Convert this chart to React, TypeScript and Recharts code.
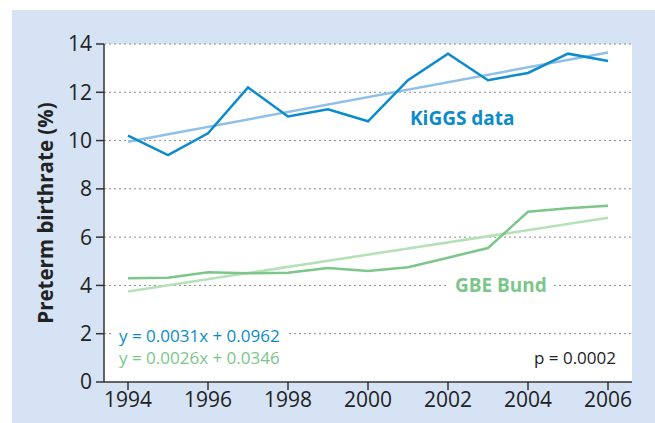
import { LineChart, Line, XAxis, YAxis, CartesianGrid, Customized } from 'recharts'

const years = [1994, 1995, 1996, 1997, 1998, 1999, 2000, 2001, 2002, 2003, 2004, 2005, 2006]
const kiggs = [10.2, 9.4, 10.3, 12.2, 11.0, 11.3, 10.8, 12.5, 13.6, 12.5, 12.8, 13.6, 13.3]
const gbe = [4.3, 4.32, 4.55, 4.5, 4.53, 4.72, 4.6, 4.75, 5.15, 5.55, 7.05, 7.2, 7.3]
// fitted lines, read at 1994 and 2006
const kiggsTrend = [9.95, 13.65]
const gbeTrend = [3.75, 6.8]
const yTicks = [0, 2, 4, 6, 8, 10, 12, 14]
const xTicks = [1994, 1996, 1998, 2000, 2002, 2004, 2006]

const FONT = "'Open Sans', sans-serif"
const BLUE = '#0b8bcb'
const BLUE_LIGHT = '#8fc0e8'
const GREEN = '#7cc68a'
const GREEN_LIGHT = '#b6e0b8'

const last = years.length - 1
const data = years.map((year, i) => ({
  year,
  kiggs: kiggs[i],
  gbe: gbe[i],
  kiggsTrend: i === 0 ? kiggsTrend[0] : i === last ? kiggsTrend[1] : null,
  gbeTrend: i === 0 ? gbeTrend[0] : i === last ? gbeTrend[1] : null,
}))

function Annotations() {
  return (
    <g fontFamily={FONT}>
      <text x={410} y={125} fill={BLUE} fontSize={19} fontWeight={700}>
        KiGGS data
      </text>
      <rect x={449} y={272} width={104} height={24} fill="#fff" />
      <text x={455} y={292} fill={GREEN} fontSize={19} fontWeight={700}>
        GBE Bund
      </text>
      <rect x={114} y={324} width={174} height={18} fill="#fff" />
      <text x={119} y={342} fill={BLUE} fontSize={17}>
        y = 0.0031x + 0.0962
      </text>
      <text x={119} y={364} fill={GREEN} fontSize={17}>
        y = 0.0026x + 0.0346
      </text>
      <text x={616} y={364} fill="#222" fontSize={17} textAnchor="end">
        p = 0.0002
      </text>
    </g>
  )
}

export default function App() {
  return (
    <div style={{ position: 'absolute', left: 0, top: 0, width: 655, height: 423, background: '#fff' }}>
      <div
        style={{
          position: 'absolute',
          left: 12,
          top: 10,
          width: 643,
          height: 413,
          background: '#d5e3f5',
        }}
      />
      <div style={{ position: 'absolute', left: 0, top: 0 }}>
        <LineChart
          width={655}
          height={423}
          data={data}
          margin={{ top: 44, right: 23, left: 44, bottom: 11 }}
        >
          <CartesianGrid
            vertical={false}
            fill="#fff"
            stroke="#8a8a8a"
            strokeDasharray="2 3"
            horizontalValues={yTicks.filter((t) => t > 0)}
          />
          <XAxis
            dataKey="year"
            type="number"
            domain={[1993.4, 2006.6]}
            ticks={xTicks}
            interval={0}
            height={30}
            tickSize={8}
            tickMargin={2}
            axisLine={{ stroke: '#333', strokeWidth: 1.5 }}
            tickLine={{ stroke: '#333', strokeWidth: 1.5 }}
            tick={{ fill: '#222', fontSize: 21, fontFamily: FONT }}
          />
          <YAxis
            type="number"
            domain={[0, 14]}
            ticks={yTicks}
            interval={0}
            width={60}
            tickSize={8}
            tickMargin={4}
            axisLine={{ stroke: '#333', strokeWidth: 1.5 }}
            tickLine={{ stroke: '#333', strokeWidth: 1.5 }}
            tick={{ fill: '#222', fontSize: 21, fontFamily: FONT }}
            label={{
              value: 'Preterm birthrate (%)',
              angle: -90,
              position: 'insideLeft',
              offset: 2,
              style: { textAnchor: 'middle', fill: '#222', fontSize: 20.5, fontWeight: 700, fontFamily: FONT },
            }}
          />
          <Line
            dataKey="kiggsTrend"
            stroke={BLUE_LIGHT}
            strokeWidth={2.5}
            dot={false}
            connectNulls
            isAnimationActive={false}
          />
          <Line
            dataKey="gbeTrend"
            stroke={GREEN_LIGHT}
            strokeWidth={2.5}
            dot={false}
            connectNulls
            isAnimationActive={false}
          />
          <Line
            dataKey="kiggs"
            stroke={BLUE}
            strokeWidth={2.5}
            dot={false}
            isAnimationActive={false}
          />
          <Line
            dataKey="gbe"
            stroke={GREEN}
            strokeWidth={2.5}
            dot={false}
            isAnimationActive={false}
          />
          <Customized component={Annotations} />
        </LineChart>
      </div>
    </div>
  )
}
